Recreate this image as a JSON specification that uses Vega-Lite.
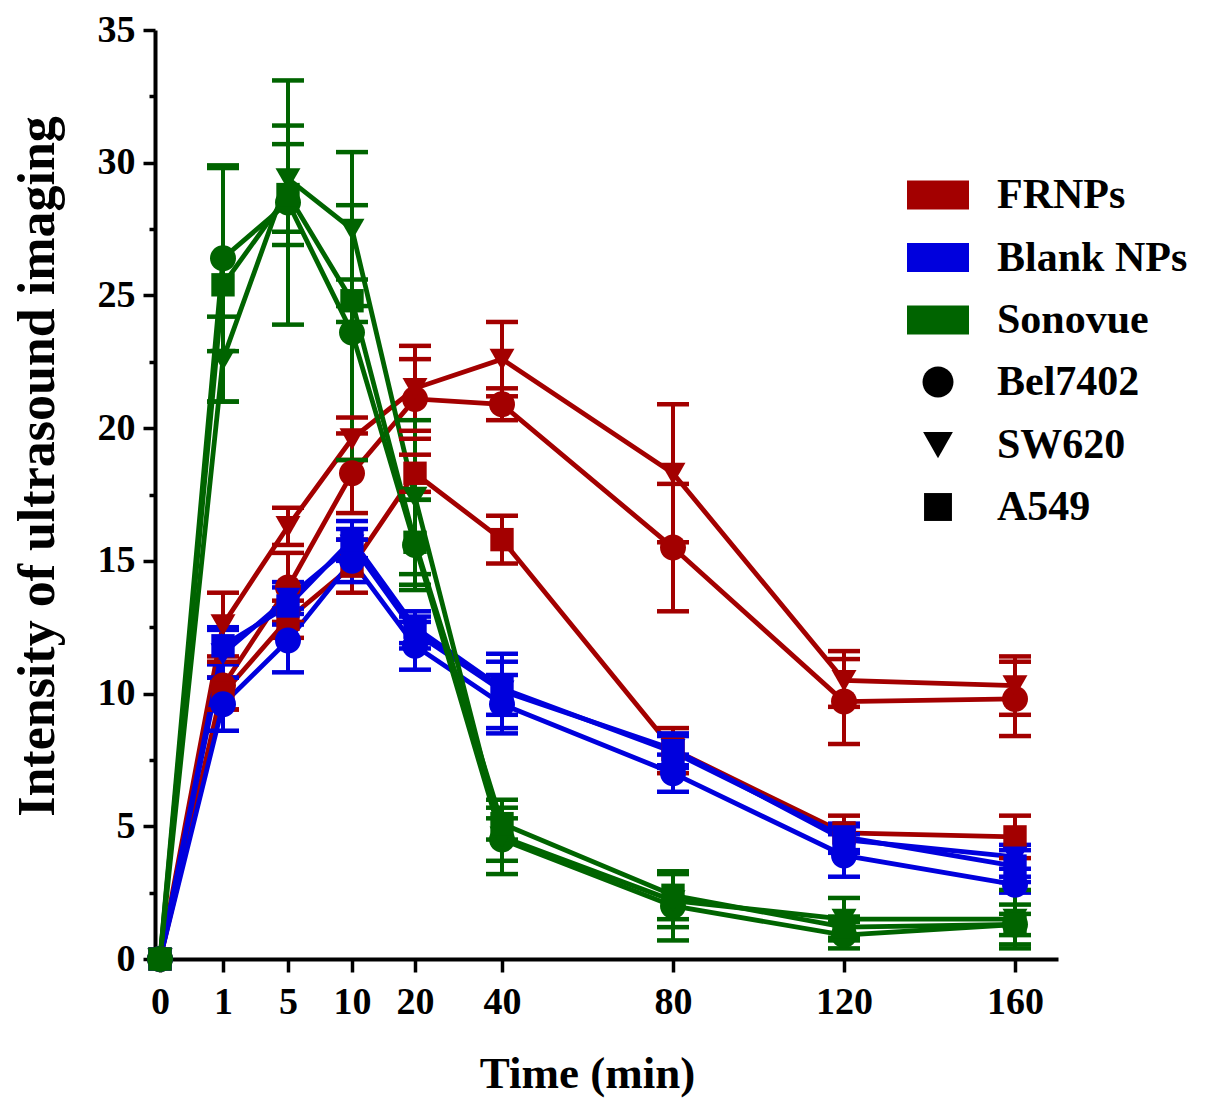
{
  "$schema": "https://vega.github.io/schema/vega-lite/v6.json",
  "width": 903,
  "height": 929,
  "autosize": {"type": "none"},
  "padding": {"left": 155, "top": 30, "right": 147, "bottom": 155},
  "background": "white",
  "data": {
    "values": [
      {"g": "FRNPs", "c": "Bel7402", "t": 0, "v": 0, "lo": 0, "hi": 0},
      {"g": "FRNPs", "c": "Bel7402", "t": 1, "v": 10.3, "lo": 9.4, "hi": 11.2},
      {"g": "FRNPs", "c": "Bel7402", "t": 5, "v": 14.0, "lo": 12.7, "hi": 15.3},
      {"g": "FRNPs", "c": "Bel7402", "t": 10, "v": 18.3, "lo": 16.8, "hi": 19.8},
      {"g": "FRNPs", "c": "Bel7402", "t": 20, "v": 21.1, "lo": 19.6, "hi": 22.6},
      {"g": "FRNPs", "c": "Bel7402", "t": 40, "v": 20.9, "lo": 20.3, "hi": 21.5},
      {"g": "FRNPs", "c": "Bel7402", "t": 80, "v": 15.5, "lo": 13.1, "hi": 17.9},
      {"g": "FRNPs", "c": "Bel7402", "t": 120, "v": 9.7, "lo": 8.1, "hi": 11.3},
      {"g": "FRNPs", "c": "Bel7402", "t": 160, "v": 9.8, "lo": 8.4, "hi": 11.2},
      {"g": "FRNPs", "c": "SW620", "t": 0, "v": 0, "lo": 0, "hi": 0},
      {"g": "FRNPs", "c": "SW620", "t": 1, "v": 12.6, "lo": 11.4, "hi": 13.8},
      {"g": "FRNPs", "c": "SW620", "t": 5, "v": 16.3, "lo": 15.6, "hi": 17.0},
      {"g": "FRNPs", "c": "SW620", "t": 10, "v": 19.6, "lo": 18.8, "hi": 20.4},
      {"g": "FRNPs", "c": "SW620", "t": 20, "v": 21.5, "lo": 19.9, "hi": 23.1},
      {"g": "FRNPs", "c": "SW620", "t": 40, "v": 22.6, "lo": 21.2, "hi": 24.0},
      {"g": "FRNPs", "c": "SW620", "t": 80, "v": 18.3, "lo": 15.7, "hi": 20.9},
      {"g": "FRNPs", "c": "SW620", "t": 120, "v": 10.5, "lo": 9.5, "hi": 11.6},
      {"g": "FRNPs", "c": "SW620", "t": 160, "v": 10.3, "lo": 9.2, "hi": 11.4},
      {"g": "FRNPs", "c": "A549", "t": 0, "v": 0, "lo": 0, "hi": 0},
      {"g": "FRNPs", "c": "A549", "t": 1, "v": 10.0, "lo": 9.4, "hi": 10.6},
      {"g": "FRNPs", "c": "A549", "t": 5, "v": 12.8, "lo": 12.1, "hi": 13.5},
      {"g": "FRNPs", "c": "A549", "t": 10, "v": 14.8, "lo": 13.8, "hi": 15.8},
      {"g": "FRNPs", "c": "A549", "t": 20, "v": 18.3, "lo": 17.6, "hi": 19.0},
      {"g": "FRNPs", "c": "A549", "t": 40, "v": 15.8, "lo": 14.9, "hi": 16.7},
      {"g": "FRNPs", "c": "A549", "t": 80, "v": 7.9, "lo": 7.0, "hi": 8.7},
      {"g": "FRNPs", "c": "A549", "t": 120, "v": 4.75, "lo": 4.1, "hi": 5.4},
      {"g": "FRNPs", "c": "A549", "t": 160, "v": 4.6, "lo": 3.8, "hi": 5.4},
      {"g": "Blank NPs", "c": "Bel7402", "t": 0, "v": 0, "lo": 0, "hi": 0},
      {"g": "Blank NPs", "c": "Bel7402", "t": 1, "v": 9.6, "lo": 8.6, "hi": 10.6},
      {"g": "Blank NPs", "c": "Bel7402", "t": 5, "v": 12.0, "lo": 10.8, "hi": 13.2},
      {"g": "Blank NPs", "c": "Bel7402", "t": 10, "v": 15.0, "lo": 14.2, "hi": 15.8},
      {"g": "Blank NPs", "c": "Bel7402", "t": 20, "v": 11.8, "lo": 10.9, "hi": 12.7},
      {"g": "Blank NPs", "c": "Bel7402", "t": 40, "v": 9.6, "lo": 8.5, "hi": 10.7},
      {"g": "Blank NPs", "c": "Bel7402", "t": 80, "v": 7.0, "lo": 6.3, "hi": 7.7},
      {"g": "Blank NPs", "c": "Bel7402", "t": 120, "v": 3.9, "lo": 3.1, "hi": 4.7},
      {"g": "Blank NPs", "c": "Bel7402", "t": 160, "v": 2.8, "lo": 2.5, "hi": 3.1},
      {"g": "Blank NPs", "c": "SW620", "t": 0, "v": 0, "lo": 0, "hi": 0},
      {"g": "Blank NPs", "c": "SW620", "t": 1, "v": 11.5, "lo": 10.6, "hi": 12.4},
      {"g": "Blank NPs", "c": "SW620", "t": 5, "v": 13.6, "lo": 13.0, "hi": 14.2},
      {"g": "Blank NPs", "c": "SW620", "t": 10, "v": 15.6, "lo": 15.0, "hi": 16.2},
      {"g": "Blank NPs", "c": "SW620", "t": 20, "v": 12.3, "lo": 11.7, "hi": 12.9},
      {"g": "Blank NPs", "c": "SW620", "t": 40, "v": 10.1, "lo": 8.7, "hi": 11.5},
      {"g": "Blank NPs", "c": "SW620", "t": 80, "v": 7.9, "lo": 7.3, "hi": 8.5},
      {"g": "Blank NPs", "c": "SW620", "t": 120, "v": 4.5, "lo": 4.0, "hi": 5.0},
      {"g": "Blank NPs", "c": "SW620", "t": 160, "v": 3.85, "lo": 3.4, "hi": 4.3},
      {"g": "Blank NPs", "c": "A549", "t": 0, "v": 0, "lo": 0, "hi": 0},
      {"g": "Blank NPs", "c": "A549", "t": 1, "v": 11.8, "lo": 11.1, "hi": 12.5},
      {"g": "Blank NPs", "c": "A549", "t": 5, "v": 13.3, "lo": 12.6, "hi": 14.0},
      {"g": "Blank NPs", "c": "A549", "t": 10, "v": 15.8, "lo": 15.1, "hi": 16.5},
      {"g": "Blank NPs", "c": "A549", "t": 20, "v": 12.5, "lo": 11.9, "hi": 13.1},
      {"g": "Blank NPs", "c": "A549", "t": 40, "v": 10.2, "lo": 9.2, "hi": 11.2},
      {"g": "Blank NPs", "c": "A549", "t": 80, "v": 7.8, "lo": 7.2, "hi": 8.4},
      {"g": "Blank NPs", "c": "A549", "t": 120, "v": 4.6, "lo": 4.1, "hi": 5.1},
      {"g": "Blank NPs", "c": "A549", "t": 160, "v": 3.5, "lo": 2.9, "hi": 4.1},
      {"g": "Sonovue", "c": "Bel7402", "t": 0, "v": 0, "lo": 0, "hi": 0},
      {"g": "Sonovue", "c": "Bel7402", "t": 1, "v": 26.4, "lo": 22.9, "hi": 29.9},
      {"g": "Sonovue", "c": "Bel7402", "t": 5, "v": 28.5, "lo": 23.9, "hi": 33.1},
      {"g": "Sonovue", "c": "Bel7402", "t": 10, "v": 23.6, "lo": 18.8, "hi": 28.4},
      {"g": "Sonovue", "c": "Bel7402", "t": 20, "v": 15.6, "lo": 13.9, "hi": 17.3},
      {"g": "Sonovue", "c": "Bel7402", "t": 40, "v": 4.5, "lo": 3.7, "hi": 5.3},
      {"g": "Sonovue", "c": "Bel7402", "t": 80, "v": 2.0, "lo": 0.7, "hi": 3.3},
      {"g": "Sonovue", "c": "Bel7402", "t": 120, "v": 0.9, "lo": 0.4, "hi": 1.4},
      {"g": "Sonovue", "c": "Bel7402", "t": 160, "v": 1.3, "lo": 0.55, "hi": 2.05},
      {"g": "Sonovue", "c": "SW620", "t": 0, "v": 0, "lo": 0, "hi": 0},
      {"g": "Sonovue", "c": "SW620", "t": 1, "v": 22.6, "lo": 21.0, "hi": 24.2},
      {"g": "Sonovue", "c": "SW620", "t": 5, "v": 29.4, "lo": 27.4, "hi": 31.4},
      {"g": "Sonovue", "c": "SW620", "t": 10, "v": 27.5, "lo": 24.6, "hi": 30.4},
      {"g": "Sonovue", "c": "SW620", "t": 20, "v": 17.4, "lo": 14.5, "hi": 20.3},
      {"g": "Sonovue", "c": "SW620", "t": 40, "v": 4.6, "lo": 3.2, "hi": 6.0},
      {"g": "Sonovue", "c": "SW620", "t": 80, "v": 2.2, "lo": 1.2, "hi": 3.2},
      {"g": "Sonovue", "c": "SW620", "t": 120, "v": 1.5, "lo": 0.7, "hi": 2.3},
      {"g": "Sonovue", "c": "SW620", "t": 160, "v": 1.5, "lo": 0.4, "hi": 2.6},
      {"g": "Sonovue", "c": "A549", "t": 0, "v": 0, "lo": 0, "hi": 0},
      {"g": "Sonovue", "c": "A549", "t": 1, "v": 25.4, "lo": 21.0, "hi": 29.8},
      {"g": "Sonovue", "c": "A549", "t": 5, "v": 28.8, "lo": 26.9, "hi": 30.7},
      {"g": "Sonovue", "c": "A549", "t": 10, "v": 24.8, "lo": 24.0, "hi": 25.6},
      {"g": "Sonovue", "c": "A549", "t": 20, "v": 15.7, "lo": 14.1, "hi": 17.3},
      {"g": "Sonovue", "c": "A549", "t": 40, "v": 5.1, "lo": 4.5, "hi": 5.7},
      {"g": "Sonovue", "c": "A549", "t": 80, "v": 2.4, "lo": 1.5, "hi": 3.3},
      {"g": "Sonovue", "c": "A549", "t": 120, "v": 1.2, "lo": 0.8, "hi": 1.6},
      {"g": "Sonovue", "c": "A549", "t": 160, "v": 1.3, "lo": 0.9, "hi": 1.7}
    ]
  },
  "encoding": {
    "x": {
      "field": "t",
      "type": "quantitative",
      "scale": {
        "domain": [-0.08, 0, 1, 5, 10, 20, 40, 160, 170],
        "range": [0, 5, 68, 133, 197, 260, 347, 860, 903],
        "nice": false,
        "zero": false
      },
      "axis": {
        "values": [0, 1, 5, 10, 20, 40, 80, 120, 160],
        "title": "Time (min)",
        "titleX": 432,
        "titlePadding": 30,
        "titleFontSize": 45,
        "labelFontSize": 38,
        "labelPadding": 11,
        "tickSize": 13,
        "labelOverlap": false,
        "labelFlush": false
      }
    },
    "color": {
      "field": "g",
      "type": "nominal",
      "scale": {
        "domain": ["FRNPs", "Blank NPs", "Sonovue"],
        "range": ["#a30000", "#0000dd", "#006400"]
      },
      "legend": null
    }
  },
  "resolve": {"legend": {"color": "independent"}},
  "layer": [
    {
      "mark": {"type": "line", "strokeWidth": 4.8},
      "encoding": {
        "y": {
          "field": "v",
          "type": "quantitative",
          "scale": {"domain": [0, 35], "nice": false, "zero": true},
          "axis": {
            "values": [0, 2.5, 5, 7.5, 10, 12.5, 15, 17.5, 20, 22.5, 25, 27.5, 30, 32.5, 35],
            "labelExpr": "datum.value % 5 === 0 ? datum.label : ''",
            "tickSize": {"condition": {"test": "datum.value % 5 === 0", "value": 12}, "value": 6},
            "title": "Intensity of ultrasound imaging",
            "titleFontSize": 52,
            "titleY": 436,
            "titlePadding": 33,
            "labelFontSize": 38,
            "labelPadding": 8
          }
        },
        "detail": {"field": "c"}
      }
    },
    {
      "transform": [{"filter": "datum.t > 0"}],
      "mark": {"type": "rule", "strokeWidth": 4},
      "encoding": {
        "y": {"field": "lo", "type": "quantitative"},
        "y2": {"field": "hi"}
      }
    },
    {
      "transform": [{"filter": "datum.t > 0"}],
      "mark": {"type": "tick", "orient": "horizontal", "size": 32, "thickness": 4.5, "opacity": 1},
      "encoding": {
        "y": {"field": "lo", "type": "quantitative"}
      }
    },
    {
      "transform": [{"filter": "datum.t > 0"}],
      "mark": {"type": "tick", "orient": "horizontal", "size": 32, "thickness": 4.5, "opacity": 1},
      "encoding": {
        "y": {"field": "hi", "type": "quantitative"}
      }
    },
    {
      "mark": {"type": "point", "filled": true, "size": 2700, "opacity": 1, "strokeWidth": 0},
      "encoding": {
        "y": {"field": "v", "type": "quantitative"},
        "color": {
          "field": "g",
          "type": "nominal",
          "legend": {
            "title": null,
            "orient": "none",
            "legendX": 752,
            "legendY": 134,
            "padding": 0,
            "rowPadding": 10.5,
            "symbolType": "M-1,-0.47H1V0.47H-1Z",
            "symbolSize": 3844,
            "symbolStrokeWidth": 0,
            "symbolOpacity": 1,
            "labelFontSize": 42,
            "labelOffset": 28,
            "labelLimit": 400
          }
        },
        "shape": {
          "field": "c",
          "type": "nominal",
          "scale": {
            "domain": ["Bel7402", "SW620", "A549"],
            "range": [
              "M0.5,0A0.5,0.5,0,1,1,-0.5,0A0.5,0.5,0,1,1,0.5,0Z",
              "M-0.48,-0.4L0.48,-0.4L0,0.44Z",
              "M-0.45,-0.45H0.45V0.45H-0.45Z"
            ]
          },
          "legend": {
            "title": null,
            "orient": "none",
            "legendX": 752,
            "legendY": 321,
            "padding": 0,
            "rowPadding": 10.5,
            "symbolSize": 3844,
            "symbolFillColor": "black",
            "symbolStrokeWidth": 0,
            "symbolOpacity": 1,
            "labelFontSize": 42,
            "labelOffset": 28,
            "labelLimit": 400
          }
        }
      }
    }
  ],
  "config": {
    "view": {"stroke": null},
    "font": "Liberation Serif",
    "axis": {
      "grid": false,
      "domainColor": "black",
      "domainWidth": 4,
      "tickColor": "black",
      "tickWidth": 3.5,
      "labelColor": "black",
      "labelFont": "Liberation Serif",
      "labelFontWeight": "bold",
      "titleColor": "black",
      "titleFont": "Liberation Serif",
      "titleFontWeight": "bold"
    },
    "legend": {
      "labelColor": "black",
      "labelFont": "Liberation Serif",
      "labelFontWeight": "bold"
    }
  }
}
